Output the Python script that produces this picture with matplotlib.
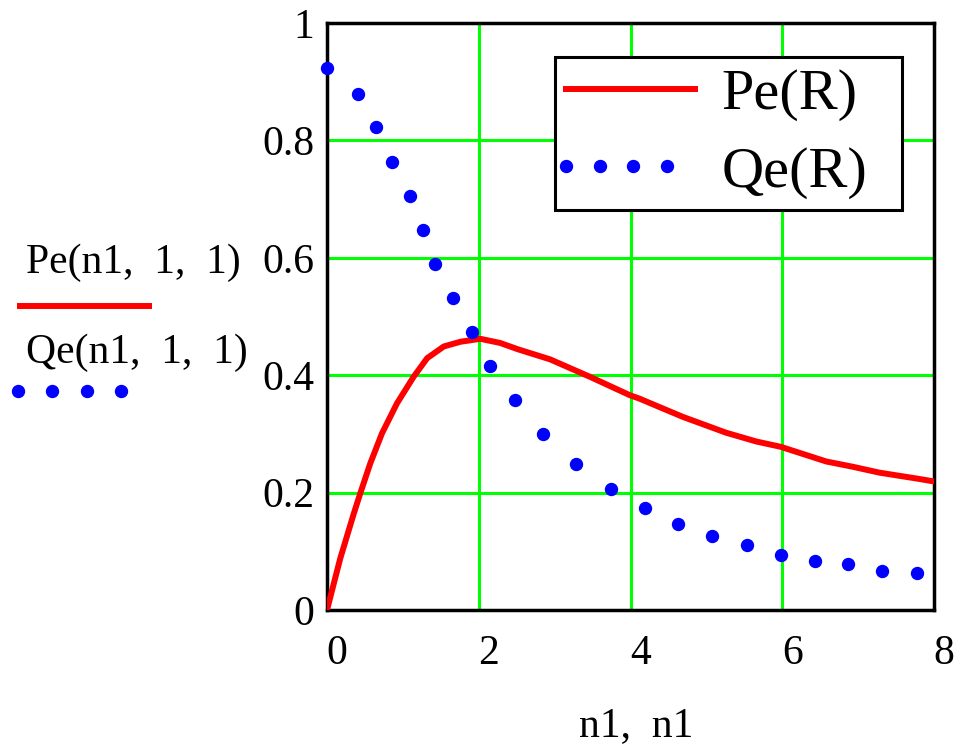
import matplotlib
matplotlib.use("Agg")
import numpy as np
import matplotlib.pyplot as plt
from matplotlib.lines import Line2D
from matplotlib.legend_handler import HandlerLine2D
import matplotlib.transforms as mtransforms

# Pe(n1,1,1): continuous curve
pe_x = [0, 0.175, 0.35, 0.439, 0.571, 0.725, 0.922, 1.14, 1.32, 1.54, 1.76,
        2.02, 2.28, 2.52, 2.94, 3.47, 3.99, 4.12, 4.34, 4.69, 5.26, 5.66, 5.98,
        6.58, 6.93, 7.28, 7.77, 8.0]
pe_y = [0, 0.088, 0.163, 0.199, 0.250, 0.301, 0.352, 0.397, 0.429, 0.449, 0.457,
        0.462, 0.455, 0.444, 0.427, 0.397, 0.366, 0.360, 0.348, 0.329, 0.302, 0.287, 0.278,
        0.253, 0.244, 0.234, 0.224, 0.219]

# Qe(n1,1,1): dotted trace (dot positions)
qe_x = [0, 0.404, 0.65, 0.857, 1.10, 1.26, 1.42, 1.66, 1.906, 2.148, 2.48,
        2.85, 3.28, 3.74, 4.19, 4.63, 5.08, 5.53, 5.98, 6.43, 6.87, 7.32, 7.77]
qe_y = [0.923, 0.879, 0.822, 0.763, 0.705, 0.647, 0.589, 0.532, 0.474, 0.416, 0.358,
        0.300, 0.248, 0.206, 0.174, 0.147, 0.126, 0.110, 0.094, 0.083, 0.078, 0.067, 0.0625]

xticks = [0, 2, 4, 6, 8]
yticks = [0, 0.2, 0.4, 0.6, 0.8, 1]
yticklabels = ["0", "0.2", "0.4", "0.6", "0.8", "1"]

plt.rcParams['font.family'] = ['Liberation Serif', 'DejaVu Serif']

W, H = 961, 744
fig = plt.figure(figsize=(W / 100, H / 100), dpi=100)
ax = fig.add_axes([327 / W, 1 - 610 / H, (934 - 327) / W, (610 - 23) / H])

ax.set_xlim(0, 8)
ax.set_ylim(0, 1)
ax.set_xticks(xticks)
ax.set_xticklabels([str(t) for t in xticks])
ax.set_yticks(yticks)
ax.set_yticklabels(yticklabels)
ax.grid(True, color='#00FF00', linewidth=2.2)
ax.set_axisbelow(True)
ax.tick_params(length=0, labelsize=30, pad=9)
ax.tick_params(axis='x', pad=18)
for lbl in ax.get_xticklabels():
    lbl.set_transform(lbl.get_transform() + mtransforms.ScaledTranslation(10 / 100, 0, fig.dpi_scale_trans))
for s in ax.spines.values():
    s.set_linewidth(2.5)
    s.set_color('black')

l1, = ax.plot(pe_x, pe_y, color='#FF0000', linewidth=4.3, label='Pe(R)', zorder=3)
l2, = ax.plot(qe_x, qe_y, linestyle='none', marker='o', markersize=8.6,
              color='#0000FF', label='Qe(R)', zorder=3, clip_on=False)


class DotHandler(HandlerLine2D):
    def get_xdata(self, legend, xdescent, ydescent, width, height, fontsize):
        x = np.linspace(-xdescent, -xdescent + width * 0.78, 4)
        return x, x


leg = ax.legend(handles=[l1, l2], loc='upper left',
                bbox_to_anchor=(0.3756, 0.680, 0.5717, 0.262), mode='expand',
                borderaxespad=0, fontsize=42, handlelength=2.21,
                handletextpad=0.45, labelspacing=0.42, borderpad=0.19,
                fancybox=False, framealpha=1, edgecolor='black',
                handler_map={l1: HandlerLine2D(marker_pad=0),
                             l2: DotHandler(numpoints=4)})
leg.get_frame().set_linewidth(2.2)
leg.set_zorder(5)

ax.set_xlabel('n1,  n1', fontsize=30, labelpad=24)
ax.xaxis.set_label_coords(0.51, -0.165)

# Mathcad-style y-axis labels with line samples
fig.text(26 / W, 1 - 263 / H, 'Pe(n1,  1,  1)', fontsize=30, ha='left', va='center')
fig.add_artist(Line2D([20 / W, 149 / W], [1 - 306 / H, 1 - 306 / H],
                      color='#FF0000', linewidth=4.3, transform=fig.transFigure))
fig.text(26 / W, 1 - 353 / H, 'Qe(n1,  1,  1)', fontsize=30, ha='left', va='center')
fig.add_artist(Line2D([18 / W, 52 / W, 87 / W, 121 / W], [1 - 391 / H] * 4,
                      linestyle='none', marker='o', markersize=8.6,
                      color='#0000FF', transform=fig.transFigure))

fig.savefig('out.png', dpi=100)
